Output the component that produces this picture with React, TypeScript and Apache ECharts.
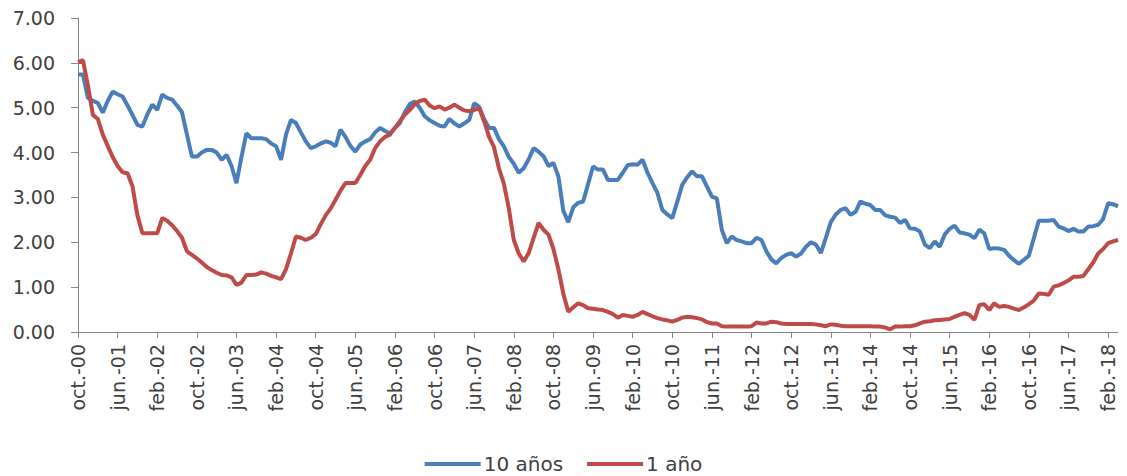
import React, { useEffect, useRef } from "react";
import * as echarts from "echarts";

const MONTH_NAMES = ["ene.", "feb.", "mar.", "abr.", "may.", "jun.", "jul.", "ago.", "sep.", "oct.", "nov.", "dic."];
const START_YEAR = 2000;
const START_MONTH = 9; // octubre

const YIELD_10Y = [
  5.74, 5.74, 5.22, 5.15, 5.11, 4.89, 5.15, 5.36, 5.30, 5.25,
  5.05, 4.84, 4.62, 4.58, 4.85, 5.07, 4.95, 5.29, 5.22, 5.18,
  5.05, 4.90, 4.40, 3.91, 3.91, 4.00, 4.06, 4.06, 4.00, 3.84,
  3.95, 3.70, 3.32, 3.90, 4.43, 4.32, 4.32, 4.32, 4.30, 4.20,
  4.14, 3.84, 4.40, 4.73, 4.66, 4.45, 4.25, 4.10, 4.14, 4.20,
  4.25, 4.22, 4.14, 4.51, 4.35, 4.15, 4.02, 4.18, 4.25, 4.30,
  4.45, 4.55, 4.48, 4.43, 4.55, 4.66, 4.90, 5.08, 5.14, 5.00,
  4.81, 4.72, 4.66, 4.60, 4.58, 4.75, 4.65, 4.58, 4.65, 4.73,
  5.10, 5.02, 4.75, 4.55, 4.55, 4.30, 4.14, 3.90, 3.75, 3.55,
  3.65, 3.85, 4.10, 4.02, 3.92, 3.70, 3.77, 3.47, 2.70, 2.45,
  2.78, 2.88, 2.91, 3.30, 3.69, 3.62, 3.62, 3.39, 3.39, 3.39,
  3.55, 3.72, 3.74, 3.73, 3.84, 3.55, 3.32, 3.10, 2.72, 2.62,
  2.54, 2.90, 3.28, 3.45, 3.58, 3.47, 3.47, 3.24, 3.02, 2.98,
  2.28, 1.98, 2.13, 2.05, 2.02, 1.98, 1.98, 2.10, 2.05, 1.80,
  1.62, 1.53, 1.65, 1.72, 1.76, 1.68, 1.75, 1.90, 2.00, 1.95,
  1.76, 2.10, 2.45, 2.62, 2.72, 2.76, 2.61, 2.68, 2.91, 2.86,
  2.83, 2.72, 2.72, 2.60, 2.57, 2.55, 2.43, 2.50, 2.31, 2.30,
  2.24, 1.95, 1.87, 2.02, 1.90, 2.17, 2.30, 2.37, 2.22, 2.20,
  2.17, 2.09, 2.28, 2.20, 1.85, 1.87, 1.86, 1.83, 1.70, 1.60,
  1.52, 1.61, 1.70, 2.09, 2.48, 2.48, 2.48, 2.50, 2.35, 2.31,
  2.25, 2.30, 2.24, 2.24, 2.35, 2.36, 2.39, 2.52, 2.87, 2.85,
  2.80,
];

const YIELD_1Y = [
  6.01, 6.06, 5.50, 4.84, 4.75, 4.40, 4.15, 3.90, 3.70, 3.56,
  3.54, 3.25, 2.60, 2.20, 2.20, 2.20, 2.20, 2.54, 2.48, 2.38,
  2.25, 2.10, 1.80, 1.72, 1.64, 1.55, 1.45, 1.38, 1.32, 1.27,
  1.26, 1.22, 1.05, 1.10, 1.27, 1.27, 1.28, 1.33, 1.30, 1.25,
  1.22, 1.18, 1.40, 1.75, 2.13, 2.10, 2.05, 2.10, 2.18, 2.40,
  2.60, 2.75, 2.95, 3.15, 3.32, 3.32, 3.32, 3.50, 3.70, 3.84,
  4.10, 4.25, 4.35, 4.40, 4.55, 4.70, 4.85, 4.95, 5.08, 5.15,
  5.18, 5.05, 4.99, 5.03, 4.96, 5.00, 5.07, 5.00, 4.94, 4.92,
  4.95, 4.99, 4.70, 4.35, 4.12, 3.65, 3.30, 2.75, 2.05, 1.75,
  1.57, 1.76, 2.10, 2.43, 2.28, 2.17, 1.85, 1.40, 0.85, 0.45,
  0.55, 0.64, 0.60, 0.53, 0.52, 0.50, 0.49, 0.45, 0.40, 0.32,
  0.38, 0.36, 0.34, 0.38, 0.45, 0.40, 0.35, 0.31, 0.28, 0.26,
  0.23, 0.27, 0.32, 0.34, 0.33, 0.31, 0.28, 0.22, 0.19, 0.19,
  0.13, 0.12, 0.12, 0.12, 0.12, 0.12, 0.13, 0.21, 0.19, 0.19,
  0.23, 0.22, 0.19, 0.18, 0.18, 0.18, 0.18, 0.18, 0.18, 0.17,
  0.15, 0.13, 0.17, 0.16, 0.14, 0.13, 0.13, 0.13, 0.13, 0.13,
  0.13, 0.12, 0.12, 0.10, 0.06, 0.12, 0.12, 0.13, 0.13, 0.15,
  0.19, 0.23, 0.24, 0.26, 0.27, 0.28, 0.29, 0.34, 0.38, 0.42,
  0.38, 0.27, 0.60, 0.62, 0.49, 0.64, 0.56, 0.58, 0.56, 0.52,
  0.49, 0.55, 0.62, 0.70, 0.86, 0.85, 0.83, 1.01, 1.04, 1.09,
  1.15, 1.23, 1.23, 1.25, 1.40, 1.55, 1.75, 1.85, 1.98, 2.02,
  2.05,
];

const SERIES_NAMES = ["10 años", "1 año"];

const CATEGORIES = YIELD_10Y.map((_, i) => {
  const m = START_MONTH + i;
  const year = START_YEAR + Math.floor(m / 12);
  const month = m % 12;
  return MONTH_NAMES[month] + "-" + String(year % 100).padStart(2, "0");
});

const FONT = "DejaVu Sans";
const TEXT_COLOR = "#404040";
const AXIS_COLOR = "#868686";

export default function App() {
  const ref = useRef<HTMLDivElement>(null);

  useEffect(() => {
    if (!ref.current) return;
    const chart = echarts.init(ref.current, undefined, { renderer: "svg" });
    chart.setOption({
      animation: false,
      backgroundColor: "#ffffff",
      grid: { left: 78, right: 9, top: 18, bottom: 144 },
      legend: {
        data: SERIES_NAMES,
        top: 449,
        left: "center",
        icon: "rect",
        itemWidth: 56,
        itemHeight: 4,
        itemGap: 24,
        textStyle: { fontFamily: FONT, fontSize: 20, color: TEXT_COLOR, padding: [0, 0, 0, -2] },
      },
      xAxis: {
        type: "category",
        data: CATEGORIES,
        boundaryGap: false,
        axisLine: { lineStyle: { color: AXIS_COLOR, width: 1 } },
        axisTick: { show: true, interval: 7, length: 6, lineStyle: { color: AXIS_COLOR } },
        axisLabel: {
          interval: 7,
          rotate: 90,
          margin: 12,
          fontFamily: FONT,
          fontSize: 19,
          color: TEXT_COLOR,
        },
        splitLine: { show: false },
      },
      yAxis: {
        type: "value",
        min: 0,
        max: 7,
        interval: 1,
        axisLine: { show: true, lineStyle: { color: AXIS_COLOR, width: 1 } },
        axisTick: { show: true, length: 7, lineStyle: { color: AXIS_COLOR } },
        axisLabel: {
          margin: 23,
          fontFamily: FONT,
          fontSize: 19,
          color: TEXT_COLOR,
          formatter: (v: number) => v.toFixed(2),
        },
        splitLine: { show: false },
      },
      series: [
        {
          name: SERIES_NAMES[0],
          type: "line",
          data: YIELD_10Y,
          showSymbol: false,
          symbol: "none",
          lineStyle: { color: "#4A7EBB", width: 4 },
          itemStyle: { color: "#4A7EBB" },
        },
        {
          name: SERIES_NAMES[1],
          type: "line",
          data: YIELD_1Y,
          showSymbol: false,
          symbol: "none",
          lineStyle: { color: "#BE4B48", width: 4 },
          itemStyle: { color: "#BE4B48" },
        },
      ],
    });
    return () => chart.dispose();
  }, []);

  return (
    <div
      ref={ref}
      style={{ position: "fixed", left: 0, top: 0, width: 1127, height: 476, background: "#fff" }}
    />
  );
}
